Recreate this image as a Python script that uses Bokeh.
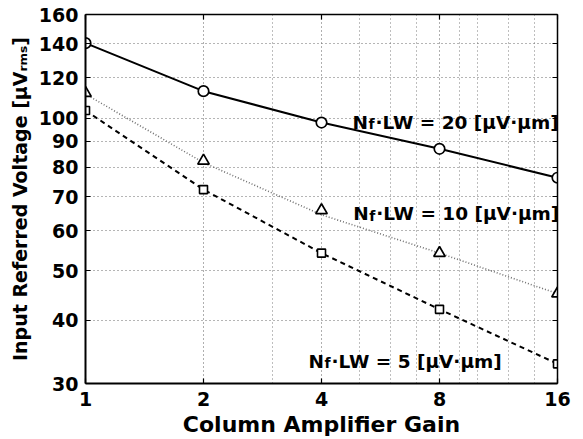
import math
from bokeh.plotting import figure
from bokeh.models import (Range1d, FixedTicker, LogAxis, Label,
                          CustomJSTickFormatter, PrintfTickFormatter)
from bokeh.embed import file_html
from bokeh.resources import INLINE

# ---- data ----
gain = [1, 2, 4, 8, 16]
nlw20 = [140.5, 113, 98, 87, 76.3]
nlw10 = [112, 82.4, 65.8, 54.2, 45.1]
nlw10_fit = [111.5, 81.7, 64.5, 54.2, 45.1]
nlw5 = [103.5, 72.3, 54.2, 42, 32.8]
x_ticks = [1, 2, 4, 8, 16]
x_minor = [3, 5, 6, 7, 9, 10, 12, 14]
y_ticks = [30, 40, 50, 60, 70, 80, 90, 100, 120, 140, 160]

FONT = "DejaVu Sans"

p = figure(width=583, height=439, x_axis_type="log", y_axis_type="log",
           x_range=Range1d(1, 16), y_range=Range1d(30, 160),
           output_backend="svg", toolbar_location=None,
           min_border_left=85, min_border_right=26,
           min_border_top=14, min_border_bottom=52)
p.outline_line_color = None
p.background_fill_color = "white"

xt = FixedTicker(ticks=x_ticks, minor_ticks=x_minor)
yt = FixedTicker(ticks=y_ticks)

def style_axis(ax, lw):
    ax.axis_line_color = "black"
    ax.axis_line_width = lw
    ax.major_tick_in = 5
    ax.major_tick_out = 0
    ax.major_tick_line_color = "black"
    ax.major_tick_line_width = 1.2
    ax.minor_tick_line_color = None
    ax.major_label_text_font = FONT
    ax.major_label_text_font_style = "bold"
    ax.major_label_text_font_size = "19px"
    ax.major_label_text_color = "black"
    ax.axis_label_text_font = FONT
    ax.axis_label_text_font_style = "bold"
    ax.axis_label_text_color = "black"

for ax in p.xaxis:
    ax.ticker = xt
    ax.formatter = PrintfTickFormatter(format="%d")
    ax.major_label_standoff = 4
    style_axis(ax, 2)
    ax.axis_label = "Column Amplifier Gain"
    ax.axis_label_text_font_size = "22px"
    ax.axis_label_standoff = 3
for ax in p.yaxis:
    ax.ticker = yt
    ax.formatter = PrintfTickFormatter(format="%d")
    ax.major_label_standoff = 7
    style_axis(ax, 2)
    ax.axis_label = "Input Referred Voltage [\u03bcV\u1d63\u2098\u209b]"
    ax.axis_label_text_font_size = "19px"
    ax.axis_label_standoff = 5

empty = CustomJSTickFormatter(code="return ''")
top = LogAxis(ticker=xt, formatter=empty, major_label_standoff=0)
style_axis(top, 1.5)
p.add_layout(top, "above")
right = LogAxis(ticker=yt, formatter=empty, major_label_standoff=0)
style_axis(right, 1.5)
p.add_layout(right, "right")

p.xgrid.grid_line_color = "#5e5e5e"
p.xgrid.grid_line_dash = "1 3"
p.xgrid.grid_line_width = 1
p.xgrid.minor_grid_line_color = "#7c7c7c"
p.xgrid.minor_grid_line_dash = "1 3"
p.xgrid.minor_grid_line_width = 1
p.ygrid.grid_line_color = "#6a6a6a"
p.ygrid.grid_line_dash = "1 3"
p.ygrid.grid_line_width = 1

# ---- series ----
p.line(gain, nlw20, line_color="black", line_width=2)
p.line(gain, nlw10_fit, line_color="#707070", line_width=1.6, line_dash="1 2")
p.line(gain, nlw5, line_color="black", line_width=2, line_dash="5 4")

p.scatter(gain, nlw20, marker="circle", size=10.5, fill_color="white",
          line_color="black", line_width=1.7)
p.scatter(gain, nlw10, marker="triangle", size=11.5, fill_color="white",
          line_color="black", line_width=1.7)
p.scatter(gain, nlw5, marker="square", size=8, fill_color="white",
          line_color="black", line_width=1.6)

# ---- annotations ----
def lab(text, x, y, size):
    p.add_layout(Label(x=x, y=y, x_units="screen", y_units="screen",
                       text=text, text_align="left",
                       text_baseline="alphabetic", text_font=FONT,
                       text_font_style="bold", text_font_size=size,
                       text_color="black"))

def series_label(num, x0, y0):
    lab("N", x0, y0, "18.5px")
    lab("f", x0 + 16, y0 - 2, "14px")
    lab("\u00b7LW = %s [\u03bcV\u00b7\u03bcm]" % num, x0 + 23, y0, "18.5px")

series_label("20", 267, 261.5)
series_label("10", 267.7, 169.8)
series_label("5", 223, 22.5)

open("out.html", "w").write(file_html(p, INLINE))
